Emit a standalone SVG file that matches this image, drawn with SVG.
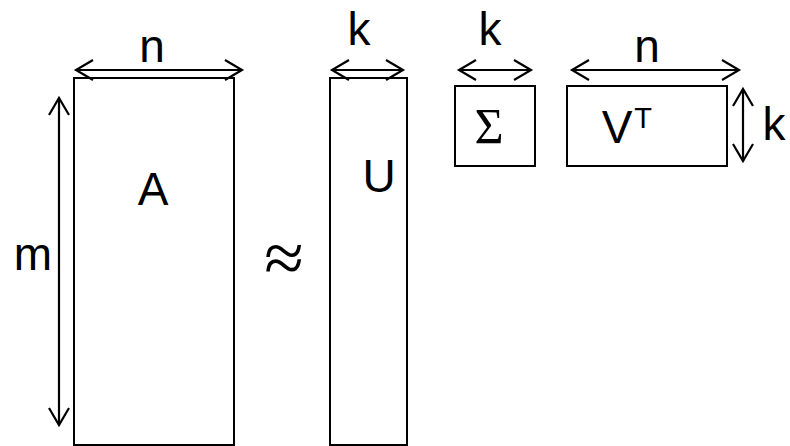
<svg xmlns="http://www.w3.org/2000/svg" width="790" height="446" viewBox="0 0 790 446">
  <style>
    .mat { fill: #fff; stroke: #000; stroke-width: 2; }
    .dim { fill: none; stroke: #000; stroke-width: 2.2; marker-start: url(#head); marker-end: url(#head); }
    .lbl { font-family: "Liberation Sans", Arial, sans-serif; font-size: 46px; fill: #000; text-anchor: middle; }
    .sup { font-family: "Liberation Sans", Arial, sans-serif; font-size: 29px; fill: #000; text-anchor: middle; }
    .sym { font-family: "Liberation Serif", "Times New Roman", serif; fill: #000; text-anchor: middle; }
  </style>
  <defs>
    <!-- open V arrowhead, reversed at line starts -->
    <marker id="head" markerUnits="userSpaceOnUse" markerWidth="24" markerHeight="24" viewBox="-20 -12 24 24" refX="0" refY="0" orient="auto-start-reverse" overflow="visible">
      <path d="M-17,-10 L0,0 L-17,10" fill="none" stroke="#000" stroke-width="2.2"/>
    </marker>
  </defs>
  <rect width="790" height="446" fill="#fff"/>

  <!-- matrices -->
  <g id="matrix-a">
    <rect class="mat" x="74" y="78" width="160" height="367"/>
    <text class="lbl" x="153" y="205">A</text>
  </g>
  <g id="matrix-u">
    <rect class="mat" x="330" y="78" width="77" height="367"/>
    <text class="lbl" x="379" y="192">U</text>
  </g>
  <g id="matrix-sigma">
    <rect class="mat" x="455" y="86" width="80" height="80"/>
    <text class="sym" x="489" y="143" font-size="50">Σ</text>
  </g>
  <g id="matrix-vt">
    <rect class="mat" x="567" y="86" width="160" height="80"/>
    <text class="lbl" x="617" y="143">V</text>
    <text class="sup" x="643" y="128">T</text>
  </g>

  <!-- approximately-equal sign -->
  <g id="approx">
    <text class="sym" x="284" y="282" font-size="72">≈</text>
  </g>

  <!-- dimension arrows -->
  <g id="dimensions">
    <line class="dim" x1="76" y1="70" x2="242" y2="70"/>
    <line class="dim" x1="59" y1="98" x2="59" y2="425"/>
    <line class="dim" x1="332" y1="70" x2="403" y2="70"/>
    <line class="dim" x1="459" y1="70" x2="531" y2="70"/>
    <line class="dim" x1="572" y1="70" x2="739" y2="70"/>
    <line class="dim" x1="743" y1="89" x2="743" y2="161"/>
  </g>

  <!-- dimension labels -->
  <g id="dim-labels">
    <text class="lbl" x="152" y="62">n</text>
    <text class="lbl" x="33" y="270">m</text>
    <text class="lbl" x="359" y="45">k</text>
    <text class="lbl" x="490" y="45">k</text>
    <text class="lbl" x="647" y="62">n</text>
    <text class="lbl" x="774" y="140">k</text>
  </g>
</svg>
